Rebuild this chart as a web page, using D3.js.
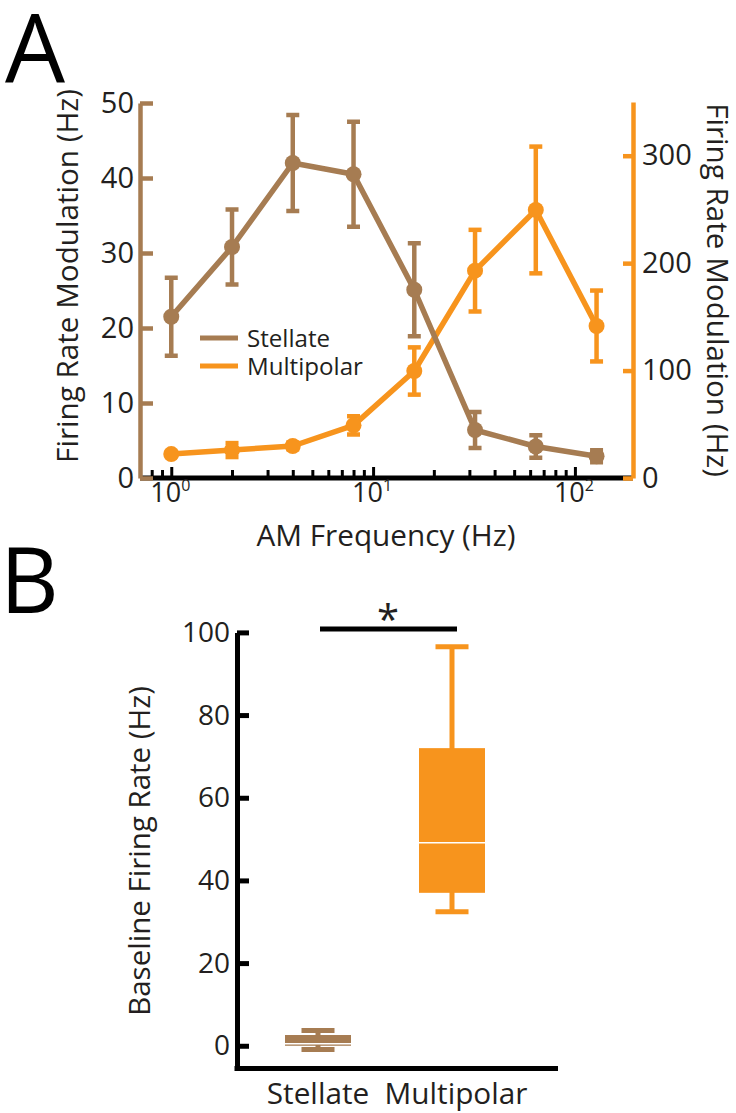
<!DOCTYPE html>
<html><head><meta charset="utf-8">
<script src="https://cdn.jsdelivr.net/npm/d3@7"></script>
<style>body{margin:0;background:#fff} svg{display:block;font-family:'Open Sans',sans-serif}</style>
</head><body><svg id="c" width="736" height="1113"></svg>
<script>
// ---- data ----
const freqs = [1, 2, 4, 8, 16, 32, 64, 128];
const stellateMean = [21.5, 30.8, 42.0, 40.5, 25.1, 6.4, 4.2, 2.9];
const stellateErr = [5.2, 5.0, 6.4, 7.0, 6.2, 2.4, 1.5, 0.8];
const multipolarMean = [22.3, 26, 29.8, 49, 99.6, 193, 249.5, 141.5];
const multipolarErr = [2, 6.5, 3, 8.5, 22, 38, 59, 33];
const xMajorTicks = [1, 10, 100];
const leftTicks = [0, 10, 20, 30, 40, 50];
const rightTicks = [0, 100, 200, 300];
const seriesNames = ["Stellate", "Multipolar"];

const boxCats = ["Stellate", "Multipolar"];
const boxMin = [-0.9, 32.4];
const boxQ1 = [0, 37.0];
const boxMedian = [0.5, 49.1];
const boxQ3 = [2.6, 72.0];
const boxMax = [3.7, 96.5];
const boxTicks = [0, 20, 40, 60, 80, 100];

// ---- styles ----
const BROWN = "#a67c52", ORANGE = "#f7941d", INK = "#231f20";
const svg = d3.select("#c");
function fit(sel, target) {
  const base = +sel.attr("font-size");
  const w = sel.node().getComputedTextLength();
  sel.attr("font-size", base * target / w);
  return base * target / w;
}

// ================= Panel A =================
const x = d3.scaleLog().domain([0.7, 194]).range([140, 633]);
const yL = d3.scaleLinear().domain([0, 50]).range([478, 103]);
const yR = d3.scaleLinear().domain([0, 350]).range([478, 102]);

svg.append("text").attr("x", 5).attr("y", 83).attr("font-size", 95).attr("fill", "#000").text("A");

function drawSeries(mean, err, y, color) {
  const g = svg.append("g");
  const pts = freqs.map((f, i) => ({ f, m: mean[i], e: err[i] }));
  g.append("path").datum(pts)
    .attr("d", d3.line().x(d => x(d.f)).y(d => y(d.m)))
    .attr("fill", "none").attr("stroke", color).attr("stroke-width", 5.5).attr("stroke-linejoin", "round");
  const eb = g.selectAll(".eb").data(pts).join("g");
  eb.append("line").attr("x1", d => x(d.f)).attr("x2", d => x(d.f))
    .attr("y1", d => y(d.m - d.e)).attr("y2", d => y(d.m + d.e))
    .attr("stroke", color).attr("stroke-width", 4.5);
  [-1, 1].forEach(s => {
    eb.append("line").attr("x1", d => x(d.f) - 6.5).attr("x2", d => x(d.f) + 6.5)
      .attr("y1", d => y(d.m + s * d.e)).attr("y2", d => y(d.m + s * d.e))
      .attr("stroke", color).attr("stroke-width", 4.5);
  });
  g.selectAll("circle").data(pts).join("circle")
    .attr("cx", d => x(d.f)).attr("cy", d => y(d.m)).attr("r", 8).attr("fill", color);
}
drawSeries(multipolarMean, multipolarErr, yR, ORANGE);
drawSeries(stellateMean, stellateErr, yL, BROWN);

// x axis (ticks inward, black)
const xMinor = x.ticks().filter(t => !xMajorTicks.includes(t));
svg.append("g").attr("transform", "translate(0,478)")
  .call(d3.axisBottom(x).tickValues(xMinor).tickSize(-8).tickFormat(""))
  .call(g => g.select(".domain").remove())
  .call(g => g.selectAll(".tick line").attr("stroke", "#000").attr("stroke-width", 3));
svg.append("g").attr("transform", "translate(0,478)")
  .call(d3.axisBottom(x).tickValues(xMajorTicks).tickSize(-11).tickFormat(""))
  .call(g => g.select(".domain").remove())
  .call(g => g.selectAll(".tick line").attr("stroke", "#000").attr("stroke-width", 3));
svg.append("line").attr("x1", x.range()[0]).attr("x2", x.range()[1]).attr("y1", 478).attr("y2", 478)
  .attr("stroke", "#000").attr("stroke-width", 5);
xMajorTicks.forEach(t => {
  const tx = svg.append("text").attr("x", x(t) - 1).attr("y", 502).attr("text-anchor", "middle")
    .attr("font-size", 27).attr("fill", INK);
  tx.append("tspan").text("10");
  tx.append("tspan").attr("font-size", 16).attr("dy", -11).text(String(Math.round(Math.log10(t))));
});
const xt = svg.append("text").attr("x", 386).attr("y", 546).attr("text-anchor", "middle")
  .attr("font-size", 28).attr("fill", INK).text("AM Frequency (Hz)");
fit(xt, 259);

// left axis
svg.append("g").attr("transform", "translate(140,0)")
  .call(d3.axisLeft(yL).tickValues(leftTicks).tickSize(-13).tickSizeOuter(0).tickPadding(6))
  .call(g => g.select(".domain").attr("stroke", BROWN).attr("stroke-width", 4.5))
  .call(g => g.selectAll(".tick line").attr("stroke", BROWN).attr("stroke-width", 4.5))
  .call(g => g.selectAll(".tick text").attr("font-size", 29).attr("fill", INK).attr("font-family", "'Open Sans',sans-serif"));
// right axis
svg.append("g").attr("transform", "translate(633,0)")
  .call(d3.axisRight(yR).tickValues(rightTicks).tickSize(-10).tickSizeOuter(0).tickPadding(9))
  .call(g => g.select(".domain").attr("stroke", ORANGE).attr("stroke-width", 4.5))
  .call(g => g.selectAll(".tick line").attr("stroke", ORANGE).attr("stroke-width", 4.5))
  .call(g => g.selectAll(".tick text").attr("font-size", 29).attr("fill", INK).attr("font-family", "'Open Sans',sans-serif"));

const rt = svg.append("text").attr("transform", "translate(707,290) rotate(90)").attr("text-anchor", "middle")
  .attr("font-size", 28).attr("fill", INK).text("Firing Rate Modulation (Hz)");
const titleSize = fit(rt, 374);
svg.append("text").attr("transform", "translate(78,276) rotate(-90)").attr("text-anchor", "middle")
  .attr("font-size", titleSize).attr("fill", INK).text("Firing Rate Modulation (Hz)");

// legend
const legColors = [BROWN, ORANGE];
const legY = [338, 366];
let legTexts = [];
seriesNames.forEach((n, i) => {
  svg.append("line").attr("x1", 200).attr("x2", 238).attr("y1", legY[i]).attr("y2", legY[i])
    .attr("stroke", legColors[i]).attr("stroke-width", 5);
  legTexts.push(svg.append("text").attr("x", 247).attr("y", legY[i] + 9).attr("font-size", 24)
    .attr("fill", INK).text(n));
});
const legSize = fit(legTexts[1], 116);
legTexts[0].attr("font-size", legSize);

// ================= Panel B =================
svg.append("text").attr("x", 0).attr("y", 613).attr("font-size", 91).attr("fill", "#000").text("B");

const yB = d3.scaleLinear().domain([-5.5, 100]).range([1068.5, 632.4]);
const xB = d3.scalePoint().domain(boxCats).range([318, 452]);
const boxW = 66, capW = 33;

boxCats.forEach((c, i) => {
  const col = i === 0 ? BROWN : ORANGE;
  const cx = xB(c);
  const g = svg.append("g");
  g.append("line").attr("x1", cx).attr("x2", cx).attr("y1", yB(boxMax[i])).attr("y2", yB(boxMin[i]))
    .attr("stroke", col).attr("stroke-width", 5);
  [boxMax[i], boxMin[i]].forEach(v => {
    g.append("line").attr("x1", cx - capW / 2).attr("x2", cx + capW / 2).attr("y1", yB(v)).attr("y2", yB(v))
      .attr("stroke", col).attr("stroke-width", 5);
  });
  g.append("rect").attr("x", cx - boxW / 2).attr("width", boxW)
    .attr("y", yB(boxQ3[i])).attr("height", yB(boxQ1[i]) - yB(boxQ3[i])).attr("fill", col);
  g.append("line").attr("x1", cx - boxW / 2).attr("x2", cx + boxW / 2)
    .attr("y1", yB(boxMedian[i])).attr("y2", yB(boxMedian[i]))
    .attr("stroke", "#fff").attr("stroke-width", 1.6);
});

svg.append("g").attr("transform", "translate(237,0)")
  .call(d3.axisLeft(yB).tickValues(boxTicks).tickSize(-12).tickSizeOuter(0).tickPadding(7))
  .call(g => g.select(".domain").attr("stroke", "#000").attr("stroke-width", 5))
  .call(g => g.selectAll(".tick line").attr("stroke", "#000").attr("stroke-width", 5))
  .call(g => g.selectAll(".tick text").attr("font-size", 28).attr("fill", INK).attr("font-family", "'Open Sans',sans-serif"));
svg.append("line").attr("x1", 234.5).attr("x2", 558).attr("y1", yB.range()[0]).attr("y2", yB.range()[0])
  .attr("stroke", "#000").attr("stroke-width", 5);

let catTexts = boxCats.map(c => svg.append("text").attr("x", xB(c) + (c === "Multipolar" ? 4 : 0)).attr("y", 1104)
  .attr("text-anchor", "middle").attr("font-size", 28).attr("fill", INK).text(c));
const catSize = fit(catTexts[1], 143);
catTexts[0].attr("font-size", catSize);

const bt = svg.append("text").attr("transform", "translate(150,851) rotate(-90)").attr("text-anchor", "middle")
  .attr("font-size", 28).attr("fill", INK).text("Baseline Firing Rate (Hz)");
fit(bt, 330);

// significance
svg.append("line").attr("x1", xB(boxCats[0]) + 2).attr("x2", xB(boxCats[1]) + 5)
  .attr("y1", yB(100.8)).attr("y2", yB(100.8)).attr("stroke", "#000").attr("stroke-width", 5);
svg.append("text").attr("x", 388).attr("y", 634).attr("text-anchor", "middle").attr("font-size", 40)
  .attr("fill", INK).text("*");
</script></body></html>
